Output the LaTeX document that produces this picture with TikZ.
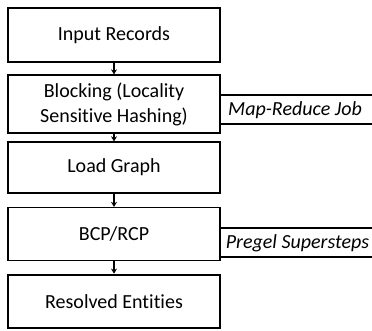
\documentclass[tikz,border=0pt]{standalone}
\usepackage{fontspec}
\setmainfont[Ligatures={NoCommon}]{Carlito}
\usetikzlibrary{arrows.meta}
\begin{document}
\begin{tikzpicture}[x=1pt,y=-1pt,
  stepbox/.style={draw, line width=1.3pt, minimum width=212pt, inner sep=0pt, align=center, font=\fontsize{20}{25}\selectfont},
  endbox/.style={stepbox, line width=2.8pt},
  flow/.style={line width=1.3pt, -{Stealth[length=5pt,width=6pt]}},
  brk/.style={line width=1.3pt},
  lbl/.style={font=\fontsize{20}{24}\selectfont\itshape, inner sep=0pt}]
\useasboundingbox (0,0) rectangle (372,331);
\node[endbox, minimum height=54pt] (in) at (114,35) {Input Records};
\node[stepbox, minimum height=58pt] (blk) at (114,104) {Blocking (Locality\\Sensitive Hashing)};
\node[stepbox, minimum height=51pt] (lg) at (114,167.5) {Load Graph};
\node[stepbox, minimum height=53pt] (bcp) at (114,234) {BCP/RCP};
\node[endbox, minimum height=53pt] (res) at (114,301.5) {Resolved Entities};
\draw[flow] (in) -- (blk);
\draw[flow] (blk) -- (lg);
\draw[flow] (lg) -- (bcp);
\draw[flow] (bcp) -- (res);
% Map-Reduce bracket
\coordinate (mrt) at (372,95);
\coordinate (mrb) at (372,124);
\draw[brk] (blk.east |- mrt) -- (mrt);
\draw[brk] (blk.east |- mrb) -- (mrb);
\node[lbl] (mr) at (295,110) {Map-Reduce Job};
% Pregel bracket
\coordinate (pgt) at (372,228);
\coordinate (pgb) at (372,257);
\draw[brk] (bcp.east |- pgt) -- (pgt);
\draw[brk] (bcp.east |- pgb) -- (pgb);
\node[lbl] (pg) at (297.5,243) {Pregel Supersteps};
\end{tikzpicture}
\end{document}
